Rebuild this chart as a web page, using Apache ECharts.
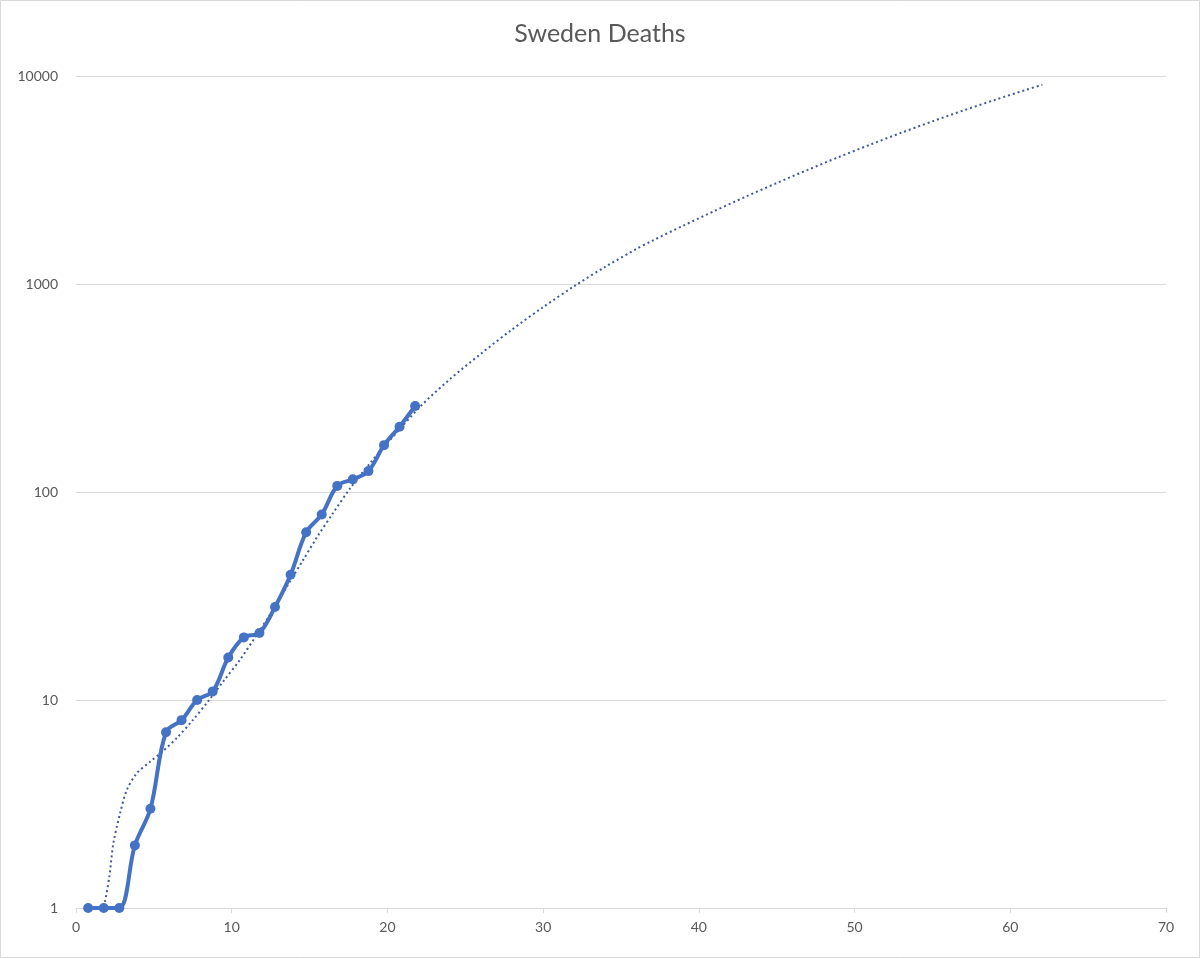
<!DOCTYPE html>
<html>
<head>
<meta charset="utf-8">
<script src="https://cdn.jsdelivr.net/npm/echarts@6/dist/echarts.min.js"></script>
<style>
html,body{margin:0;padding:0;background:#fff;}
#chart{width:1200px;height:958px;}
</style>
</head>
<body>
<div id="chart"></div>
<script>
const days = [0.78,1.78,2.78,3.78,4.78,5.78,6.78,7.78,8.78,9.78,10.78,11.78,12.78,13.78,14.78,15.78,16.78,17.78,18.78,19.78,20.78,21.78];
const deaths = [1,1,1,2,3,7,8,10,11,16,20,21,28,40,64,78,107,115,126,168,206,259];

// Dotted trendline
const trendX = [1.86,2.14,2.4,2.83,3.26,3.9,4.76,5.61,6.5,7.5,8.5,9.5,10.5,11.5,12.5,13.5,14.6,15.5,16.5,17.6,18.9,20.0,22.1,24,26,28,30,32,34,36,37,39,41,43,45,47,49,51,53,55,57,59,61,62.06];
const trendY = [1.07,1.41,2.05,2.85,3.69,4.44,5.05,5.7,6.6,8.0,9.9,12.4,15.5,20,26,34.7,47.3,61,79,104,138,172,257,348,462,604,774,977,1211,1476,1613,1908,2244,2627,3057,3540,4081,4677,5335,6053,6833,7672,8576,9073];

const xTicks = [0,10,20,30,40,50,60,70];
const yTicks = [1,10,100,1000,10000];

const chart = echarts.init(document.getElementById('chart'));
const font = 'Lato, "Open Sans", "Liberation Sans", sans-serif';
chart.setOption({
  animation: false,
  backgroundColor: '#fff',
  title: {
    text: 'Sweden Deaths',
    left: 'center',
    top: 16,
    textStyle: {fontFamily: font, fontSize: 25, fontWeight: 'normal', color: '#595959'}
  },
  graphic: [{
    type: 'rect', shape: {x: 0.5, y: 0.5, width: 1199, height: 957},
    style: {fill: 'none', stroke: '#d9d9d9', lineWidth: 1}, silent: true
  }],
  grid: {left: 76, right: 34, top: 76, bottom: 50, containLabel: false},
  xAxis: {
    type: 'value', min: 0, max: 70, interval: 10,
    axisLine: {show: true, lineStyle: {color: '#d9d9d9', width: 1}},
    axisTick: {show: true, length: 5, lineStyle: {color: '#d9d9d9'}},
    splitLine: {show: false},
    axisLabel: {fontFamily: font, fontSize: 14, color: '#595959', margin: 12,
      formatter: v => xTicks.includes(v) ? String(v) : ''}
  },
  yAxis: {
    type: 'log', logBase: 10, min: 1, max: 10000,
    axisLine: {show: false},
    axisTick: {show: false},
    splitLine: {show: true, lineStyle: {color: '#d9d9d9', width: 1}},
    axisLabel: {fontFamily: font, fontSize: 14, color: '#595959', margin: 18,
      formatter: v => yTicks.includes(v) ? String(v) : ''}
  },
  series: [
    {
      name: 'Deaths', type: 'line',
      data: days.map((d, i) => [d, deaths[i]]),
      smooth: 0.35,
      symbol: 'circle', symbolSize: 10,
      itemStyle: {color: '#4472C4'},
      lineStyle: {color: '#4472C4', width: 4},
      z: 3
    },
    {
      name: 'Trend', type: 'line',
      data: trendX.map((x, i) => [x, trendY[i]]),
      smooth: 0.3,
      symbol: 'none',
      lineStyle: {color: '#3f5a9c', width: 2, type: [2, 3]},
      z: 2
    }
  ]
});
</script>
</body>
</html>
